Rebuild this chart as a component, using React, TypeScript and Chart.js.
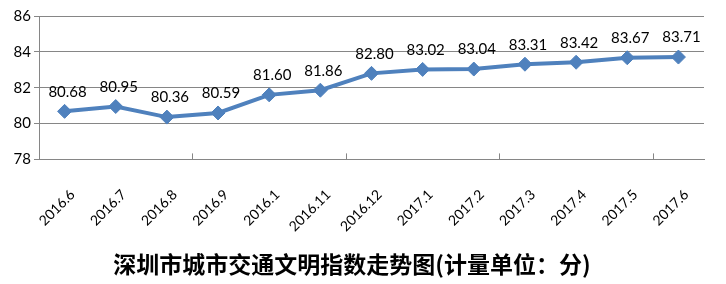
import React, { useEffect, useRef } from "react";
import { Chart, registerables } from "chart.js";

Chart.register(...registerables);

const categories = ["2016.6", "2016.7", "2016.8", "2016.9", "2016.1", "2016.11", "2016.12", "2017.1", "2017.2", "2017.3", "2017.4", "2017.5", "2017.6"];
const values = [80.68, 80.95, 80.36, 80.59, 81.6, 81.86, 82.8, 83.02, 83.04, 83.31, 83.42, 83.67, 83.71];
const valueLabels = ["80.68", "80.95", "80.36", "80.59", "81.60", "81.86", "82.80", "83.02", "83.04", "83.31", "83.42", "83.67", "83.71"];
const titleText = "深圳市城市交通文明指数走势图(计量单位：分)";

const GRID = "#868686";
const LINE = "#4F81BD";

const dataLabelPlugin = {
  id: "dataLabels",
  afterDatasetsDraw(chart: any) {
    const ctx = chart.ctx;
    const meta = chart.getDatasetMeta(0);
    ctx.save();
    ctx.font = "15px Lato";
    ctx.fillStyle = "#000";
    ctx.textAlign = "center";
    ctx.textBaseline = "bottom";
    meta.data.forEach((pt: any, i: number) => {
      ctx.fillText(valueLabels[i], pt.x + 3, pt.y - 12);
    });
    ctx.restore();
  },
};

const xTickPlugin = {
  id: "xTicks",
  afterDraw(chart: any) {
    const x = chart.scales.x;
    const ctx = chart.ctx;
    const n = categories.length;
    const half = (x.getPixelForValue(1) - x.getPixelForValue(0)) / 2;
    ctx.save();
    ctx.strokeStyle = GRID;
    ctx.lineWidth = 1;
    for (let i = 0; i < n; i += 3) {
      const px = Math.round(x.getPixelForValue(i) - half) + 0.5;
      ctx.beginPath();
      ctx.moveTo(px, x.top);
      ctx.lineTo(px, x.top - 6);
      ctx.stroke();
    }
    ctx.restore();
  },
};

export default function App() {
  const ref = useRef<HTMLCanvasElement>(null);
  useEffect(() => {
    if (!ref.current) return;
    const chart = new Chart(ref.current, {
      type: "line",
      data: {
        labels: categories,
        datasets: [
          {
            data: values,
            borderColor: LINE,
            backgroundColor: LINE,
            borderWidth: 4,
            pointStyle: "rectRot",
            pointRadius: 7,
            pointHoverRadius: 7,
            pointBackgroundColor: LINE,
            pointBorderColor: LINE,
            pointBorderWidth: 1,
            tension: 0,
          },
        ],
      },
      options: {
        animation: false,
        responsive: false,
        maintainAspectRatio: false,
        layout: { padding: { top: 16, right: 22, left: 0, bottom: 0 } },
        plugins: {
          legend: { display: false },
          tooltip: { enabled: false },
          title: {
            display: true,
            text: titleText,
            position: "bottom",
            color: "#000",
            font: { family: "'Noto Sans CJK SC'", size: 23, weight: "bold", lineHeight: 1.2 },
            padding: { top: 0, bottom: 6 },
          },
        },
        scales: {
          x: {
            offset: true,
            grid: { display: false, drawTicks: false },
            border: { display: true, color: GRID, width: 1 },
            ticks: {
              minRotation: 45,
              maxRotation: 45,
              autoSkip: false,
              color: "#000",
              padding: 27,
              labelOffset: 8,
              font: { family: "Lato", size: 14 },
            },
            afterFit(scale: any) {
              scale.height = 91;
            },
          },
          y: {
            min: 78,
            max: 86,
            ticks: {
              stepSize: 2,
              color: "#000",
              padding: 3,
              font: { family: "Lato", size: 15 },
            },
            grid: { color: GRID, tickLength: 5, lineWidth: 1 },
            border: { display: true, color: GRID, width: 1 },
            afterFit(scale: any) {
              scale.width = 39;
            },
          },
        },
      },
      plugins: [dataLabelPlugin, xTickPlugin],
    });
    return () => chart.destroy();
  }, []);
  return (
    <div style={{ position: "fixed", left: 0, top: 0, width: 726, height: 284, background: "#fff" }}>
      <canvas ref={ref} width={726} height={284} style={{ width: 726, height: 284 }} />
    </div>
  );
}
